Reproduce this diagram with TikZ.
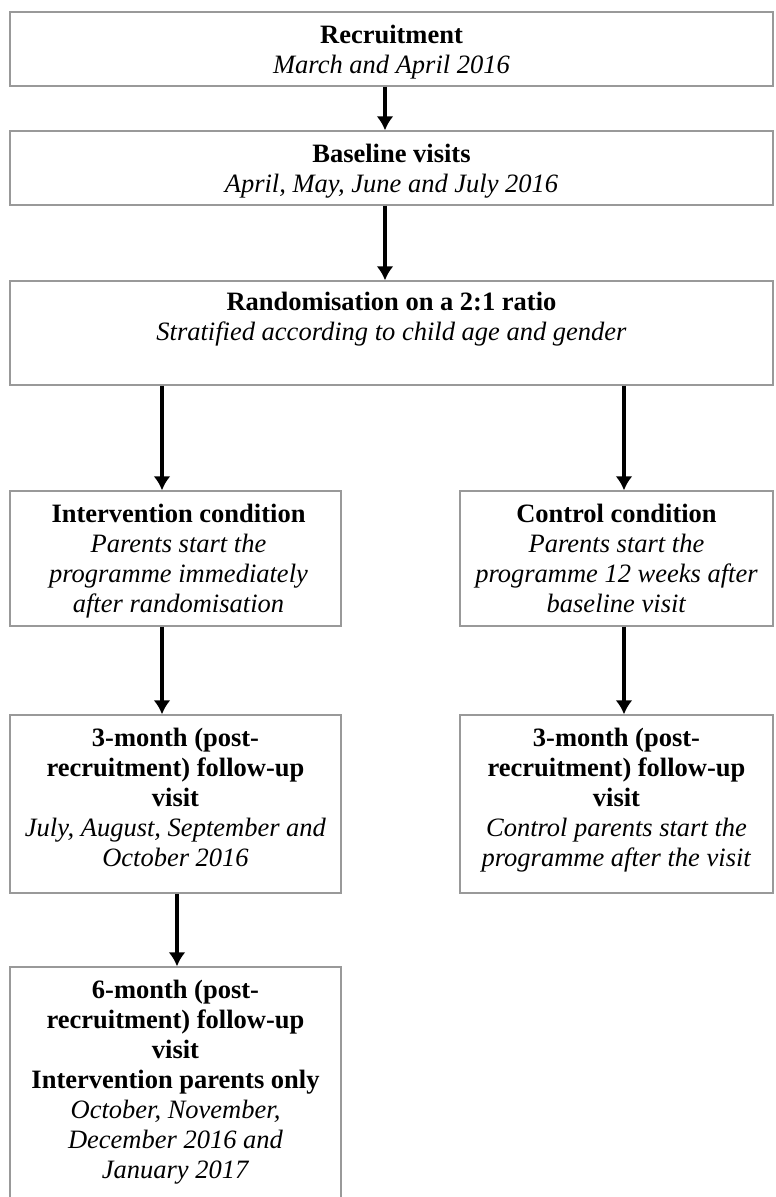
\documentclass[tikz,border=0pt]{standalone}
\usepackage{fontspec}
\setmainfont{Liberation Serif}
\usetikzlibrary{arrows.meta}
\begin{document}
\begin{tikzpicture}[x=1pt,y=1pt,
  box/.style={draw=black!40, line width=1.4pt, fill=white, inner sep=0pt, rectangle},
  txt/.style={anchor=north, inner sep=0pt, align=center, font=\fontsize{26.5}{30}\selectfont},
  arr/.style={line width=3.4pt, -{Latex[length=14pt,width=17pt]}}]
\useasboundingbox (0,0) rectangle (776,-1197);
\fill[white] (0,0) rectangle (776,-1197);
\clip (0,0) rectangle (776,-1197);
% boxes
\node[box, minimum width=763, minimum height=74]  (b1) at (391.5,-49) {};
\node[box, minimum width=763, minimum height=74]  (b2) at (391.5,-168) {};
\node[box, minimum width=763, minimum height=104] (b3) at (391.5,-333) {};
\node[box, minimum width=331, minimum height=135] (b4) at (175.5,-558.5) {};
\node[box, minimum width=313, minimum height=135] (b5) at (616.5,-558.5) {};
\node[box, minimum width=331, minimum height=178] (b6) at (175.5,-804) {};
\node[box, minimum width=313, minimum height=178] (b7) at (616.5,-804) {};
\node[box, minimum width=331, minimum height=250] (b8) at (175.5,-1092) {};
% texts
\node[txt] (t1) at ([yshift=-10.5]b1.north) {\strut\textbf{Recruitment}\\\textit{March and April 2016}};
\node[txt] (t2) at ([yshift=-10.5]b2.north) {\strut\textbf{Baseline visits}\\\textit{April, May, June and July 2016}};
\node[txt] (t3) at ([yshift=-8.5]b3.north) {\strut\textbf{Randomisation on a 2:1 ratio}\\\textit{Stratified according to child age and gender}};
\node[txt] (t4) at ([xshift=3pt,yshift=-10.5]b4.north) {\strut\textbf{Intervention condition}\\\textit{Parents start the}\\\textit{programme immediately}\\\textit{after randomisation}};
\node[txt] (t5) at ([yshift=-10.5]b5.north) {\strut\textbf{Control condition}\\\textit{Parents start the}\\\textit{programme 12 weeks after}\\\textit{baseline visit}};
\node[txt] (t6) at ([yshift=-10.5]b6.north) {\strut\textbf{3-month (post-}\\\textbf{recruitment) follow-up}\\\textbf{visit}\\\textit{July, August, September and}\\\textit{October 2016}};
\node[txt] (t7) at ([yshift=-10.5]b7.north) {\strut\textbf{3-month (post-}\\\textbf{recruitment) follow-up}\\\textbf{visit}\\\textit{Control parents start the}\\\textit{programme after the visit}};
\node[txt] (t8) at ([yshift=-10.5]b8.north) {\strut\textbf{6-month (post-}\\\textbf{recruitment) follow-up}\\\textbf{visit}\\\textbf{Intervention parents only}\\\textit{October, November,}\\\textit{December 2016 and}\\\textit{January 2017}};
% arrow attachment points
\coordinate (a4) at ([xshift=-13.5pt]b4.north);
\coordinate (a5) at ([xshift=7.5pt]b5.north);
% connectors
\draw[arr] ([xshift=-6.5pt]b1.south) -- ([xshift=-6.5pt]b2.north);
\draw[arr] ([xshift=-6.5pt]b2.south) -- ([xshift=-6.5pt]b3.north);
\draw[arr] (b3.south -| a4) -- (a4);
\draw[arr] (b3.south -| a5) -- (a5);
\draw[arr] ([xshift=-13.5pt]b4.south) -- ([xshift=-13.5pt]b6.north);
\draw[arr] ([xshift=7.5pt]b5.south) -- ([xshift=7.5pt]b7.north);
\draw[arr] ([xshift=1.5pt]b6.south) -- ([xshift=1.5pt]b8.north);
\end{tikzpicture}
\end{document}
